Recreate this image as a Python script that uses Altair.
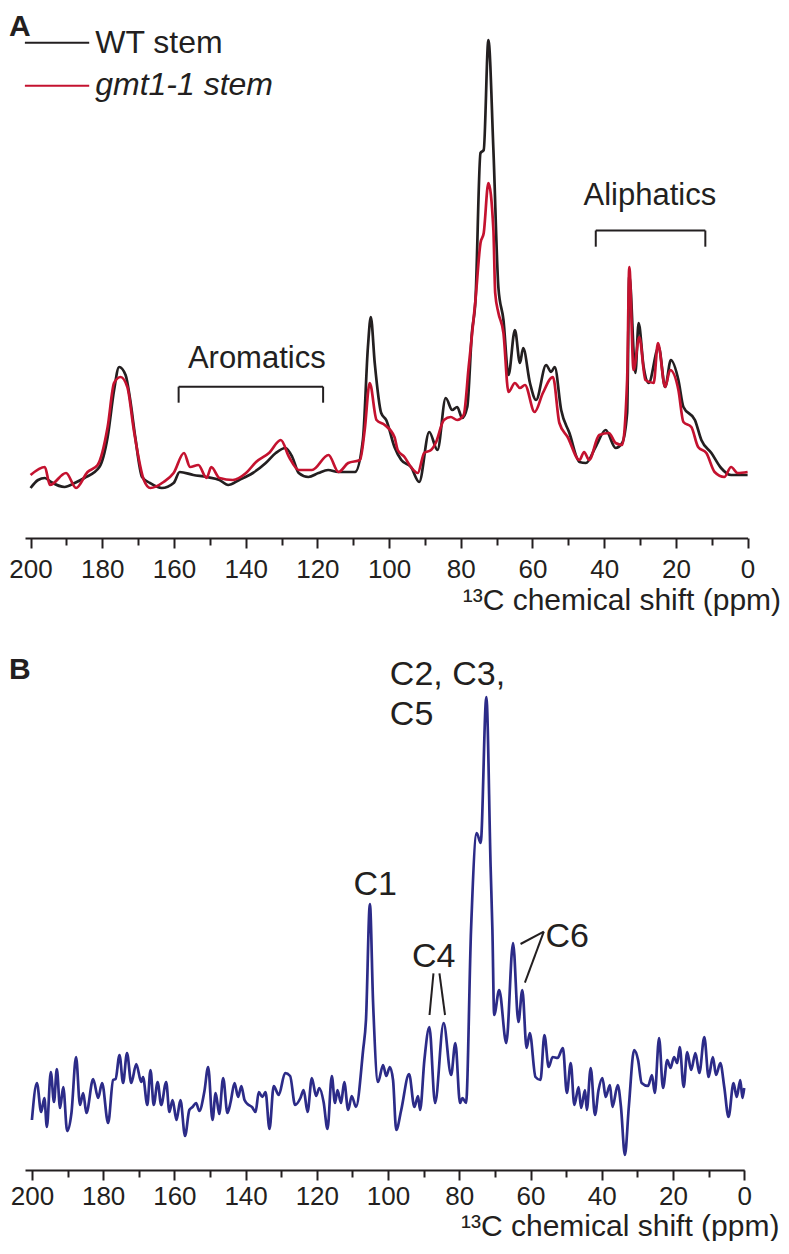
import altair as alt
import pandas as pd

# ---------------- data (ppm, arbitrary intensity) ----------------
wt_ppm = [200.0, 197.9, 196.0, 194.3, 190.5, 187.7, 185.0, 180.8, 178.5, 176.7, 175.3, 173.5, 172.2, 170.8,
          168.9, 166.7, 163.4, 160.1, 158.4, 154.6, 150.9, 147.3, 144.9, 141.8, 138.0, 134.4, 131.6, 128.9,
          127.0, 125.2, 122.5, 119.7, 117.0, 114.2, 109.5, 107.3, 105.9, 105.1, 104.0, 102.2, 100.8, 98.5,
          96.6, 93.9, 91.6, 88.8, 86.5, 84.2, 82.4, 81.0, 79.6, 78.2, 76.9, 75.9, 74.5, 73.6, 72.3, 70.9,
          69.5, 68.1, 66.7, 64.9, 63.5, 62.6, 60.7, 59.0, 56.2, 54.8, 53.8, 52.0, 49.7, 46.9, 45.1, 42.4,
          39.6, 36.8, 35.0, 33.6, 33.0, 31.3, 30.4, 29.0, 27.6, 24.8, 23.0, 21.4, 19.3, 17.9, 14.7, 12.9,
          10.1, 7.4, 4.6, 0.0]
wt_int = [2, 10, 12, 8, 3, 7, 12, 23, 53, 100, 123, 115, 90, 53,
          13, 7, 2, 7, 18, 15, 13, 10, 5, 10, 17, 27, 37, 42,
          33, 17, 13, 17, 20, 18, 18, 50, 143, 173, 127, 77, 70, 43,
          30, 23, 8, 58, 40, 92, 80, 83, 72, 83, 157, 190, 337, 340, 450, 340,
          202, 170, 115, 160, 127, 142, 107, 90, 125, 118, 123, 80, 57, 28, 27, 43,
          60, 42, 47, 77, 215, 117, 167, 123, 107, 143, 103, 130, 110, 83, 70, 50,
          37, 22, 15, 15]

gmt_ppm = [200.0, 196.0, 194.6, 190.1, 187.3, 184.1, 181.3, 178.5, 176.7, 174.9, 173.0, 171.2, 168.4, 166.6,
           162.9, 160.1, 157.2, 155.5, 153.2, 150.9, 149.6, 147.3, 143.6, 139.9, 137.1, 133.5, 130.2, 127.9,
           125.2, 121.5, 116.9, 114.1, 111.4, 108.1, 106.8, 105.4, 103.5, 101.2, 98.5, 97.6, 95.7, 93.9,
           92.0, 90.2, 88.3, 87.0, 84.7, 82.8, 81.0, 79.2, 77.8, 75.9, 74.5, 73.6, 72.3, 70.9, 70.4, 69.5,
           68.1, 66.7, 64.9, 63.5, 62.1, 59.4, 57.1, 54.3, 52.5, 50.2, 46.9, 45.6, 44.2, 41.4, 38.7, 36.8,
           35.0, 33.6, 33.0, 31.8, 30.2, 28.5, 26.2, 25.0, 23.0, 21.6, 19.3, 17.9, 15.7, 13.8, 11.5, 9.2,
           6.5, 4.6, 2.8, 0.0]
gmt_int = [15, 23, 5, 17, 2, 18, 25, 63, 107, 113, 103, 60, 10, 2,
           8, 17, 37, 23, 25, 12, 23, 12, 10, 17, 28, 37, 50, 33,
           20, 20, 35, 18, 27, 30, 60, 107, 70, 65, 53, 40, 33, 23,
           17, 37, 40, 47, 70, 73, 70, 75, 123, 190, 247, 257, 307, 260, 197, 177,
           157, 98, 107, 102, 105, 78, 97, 113, 67, 53, 30, 38, 30, 55, 57, 47,
           45, 110, 223, 120, 153, 110, 107, 147, 103, 120, 100, 68, 63, 43, 37, 18,
           13, 23, 17, 18]

b_ppm = [200.0, 198.6, 197.4, 196.5, 195.8, 194.7, 193.8, 193.0, 192.1, 191.2, 190.1, 188.9, 187.6, 186.5,
         185.6, 184.7, 182.8, 181.4, 180.3, 178.6, 177.2, 176.5, 175.4, 174.4, 173.3, 172.1, 170.7, 169.3,
         168.8, 167.6, 166.7, 165.8, 164.7, 163.7, 162.3, 161.4, 160.5, 159.4, 158.3, 157.0, 155.8, 154.9,
         153.9, 153.0, 151.6, 150.5, 149.3, 148.4, 147.4, 146.3, 145.1, 144.2, 143.1, 142.1, 141.2, 140.3,
         139.1, 138.2, 137.2, 136.3, 135.3, 134.4, 133.3, 132.1, 130.7, 128.9, 127.5, 126.1, 124.6, 123.7,
         122.6, 121.4, 120.2, 119.3, 118.1, 117.0, 115.8, 114.9, 114.2, 113.2, 112.3, 111.2, 110.2, 109.0,
         107.0, 106.2, 105.1, 104.2, 102.8, 101.4, 100.5, 99.5, 98.6, 97.7, 96.3, 94.1, 92.6, 91.6, 91.0,
         89.8, 88.4, 86.8, 84.4, 82.3, 81.1, 79.8, 79.1, 78.1, 76.7, 75.1, 74.0, 72.4, 71.2, 70.7, 70.2,
         68.8, 66.8, 64.9, 63.4, 62.3, 61.1, 60.2, 58.6, 57.2, 56.1, 54.9, 53.8, 52.4, 50.9, 49.8, 48.7,
         47.7, 46.5, 45.8, 44.7, 44.2, 43.1, 41.9, 40.9, 39.8, 38.9, 37.7, 37.0, 35.5, 34.6, 33.5, 32.4,
         30.9, 29.8, 28.8, 27.0, 25.9, 25.1, 23.9, 22.8, 21.6, 20.7, 19.7, 18.8, 18.1, 17.0, 16.0, 14.9,
         13.7, 12.6, 11.2, 10.0, 8.8, 7.9, 6.7, 5.6, 4.4, 3.0, 2.1, 1.1, 0.5, 0.0]
b_int = [-10, 27, -2, 12, -17, 38, 8, 41, 2, 23, -21, -3, 53, 5,
         17, -3, 31, 12, 27, -13, 30, 31, 55, 27, 57, 27, 46, 28,
         33, 5, 40, 5, 28, 5, 28, -2, 10, -10, 10, -26, 0, 3,
         7, -1, 18, 43, -10, 17, -4, 32, -3, 8, 27, 13, 24, 10,
         5, 3, -2, 18, 13, 18, -19, 24, 15, 37, 34, 5, 12, 20,
         -2, 32, 14, 22, 8, -19, 34, 7, 20, 7, 28, 0, 14, 3,
         60, 90, 206, 107, 28, 45, 34, 43, 30, -20, 0, 36, 3, 14, 0,
         50, 83, 7, 87, 35, 67, 7, 12, 7, 180, 277, 267, 413, 243, 180, 95,
         120, 67, 167, 88, 120, 62, 77, 33, 30, 75, 43, 53, 52, 62, 17, 47,
         5, 23, 2, 20, 0, 42, -5, 20, 32, 13, 25, 3, 25, 3, -45, 3,
         60, 50, 27, 24, 35, 17, 72, 22, 50, 42, 53, 47, 63, 23, 58, 40,
         57, 37, 73, 33, 53, 35, 47, 23, -7, 27, 13, 30, 12, 22]

tick_values = list(range(0, 201, 10))
series_names = ["WT stem", "gmt1-1 stem"]
axis_title = "¹³C chemical shift (ppm)"

# ---------------- styling ----------------
FONT = "Liberation Sans"
INK = "#231f20"
WT_COLOR = "#231f20"
GMT_COLOR = "#c4122f"
B_COLOR = "#2c2b88"

WA, HA = 722.6, 530
WB, HB = 719.2, 520


def make_axis(label_pad, title_x, title_y):
    return alt.Axis(
        values=tick_values,
        labelExpr="datum.value % 20 === 0 ? datum.label : ''",
        tickSize={"condition": {"test": "datum.value % 20 === 0", "value": 10}, "value": 7},
        tickWidth=2, tickColor=INK, domainColor=INK, domainWidth=2,
        labelFont=FONT, labelFontSize=26, labelColor=INK, labelBaseline="alphabetic",
        labelPadding=label_pad, labelFlush=False, labelOverlap=False,
        title=axis_title, titleFont=FONT, titleFontSize=30, titleFontWeight="normal",
        titleColor=INK, titleAnchor="end", titleAlign="right", titleBaseline="alphabetic",
        titleX=title_x, titleY=title_y, grid=False,
    )


def panel(lines, rules, texts, xdom, ydom, axis):
    xs = alt.Scale(domain=xdom, nice=False, zero=False)
    ys = alt.Scale(domain=ydom, nice=False, zero=False)
    X = alt.X("ppm:Q", scale=xs, axis=axis)
    Y = alt.Y("val:Q", scale=ys, axis=None)
    layers = []
    for df, color in lines:
        layers.append(alt.Chart(df).mark_line(color=color, strokeWidth=2.7, interpolate="monotone")
                      .encode(x=X, y=Y))
    if rules is not None:
        layers.append(alt.Chart(rules).mark_rule(strokeWidth=2, strokeCap="butt")
                      .encode(x=X, x2="ppm2:Q", y=Y, y2="val2:Q",
                              color=alt.Color("col:N", scale=None),
                              strokeWidth=alt.StrokeWidth("w:Q", scale=None)))
    for df, kw in texts:
        layers.append(alt.Chart(df).mark_text(font=FONT, color=INK, **kw)
                      .encode(x=X, y=Y, text="label:N"))
    return alt.layer(*layers)


# ---------------- panel A ----------------
dfA_wt = pd.DataFrame({"ppm": wt_ppm, "val": wt_int})
dfA_gmt = pd.DataFrame({"ppm": gmt_ppm, "val": gmt_int})

rulesA = pd.DataFrame({
    "ppm":  [201.58, 201.58, 158.7, 158.7, 118.4, 42.35, 42.35, 11.79],
    "ppm2": [183.64, 183.64, 118.4, 158.7, 118.4, 11.79, 42.35, 11.79],
    "val":  [447.3, 404.3, 103.3, 103.3, 103.3, 259.5, 259.5, 259.5],
    "val2": [447.3, 404.3, 103.3, 87.3, 87.3, 259.5, 243.3, 243.3],
    "col":  [WT_COLOR, GMT_COLOR, INK, INK, INK, INK, INK, INK],
    "w":    [2.6, 2.6, 2, 2, 2, 2, 2, 2],
})
textA_legend = pd.DataFrame({"ppm": [181.97], "val": [436.7], "label": [series_names[0]]})
textA_legend_it = pd.DataFrame({"ppm": [181.97], "val": [395.0], "label": [series_names[1]]})
textA_groups = pd.DataFrame({"ppm": [136.9, 27.25], "val": [121.7, 285.0], "label": ["Aromatics", "Aliphatics"]})
textA_letter = pd.DataFrame({"ppm": [206.04], "val": [454.0], "label": ["A"]})

chartA = panel(
    [(dfA_wt, WT_COLOR), (dfA_gmt, GMT_COLOR)],
    rulesA,
    [
        (textA_legend, dict(fontSize=32, align="left", baseline="alphabetic")),
        (textA_legend_it, dict(fontSize=32, align="left", baseline="alphabetic", fontStyle="italic")),
        (textA_groups, dict(fontSize=31, align="center", baseline="alphabetic")),
        (textA_letter, dict(fontSize=30, align="left", baseline="alphabetic", fontWeight="bold")),
    ],
    [201.55, 0], [-48, 482], make_axis(29.7, WA + 33, 71),
).properties(width=WA, height=HA)

# ---------------- panel B ----------------
dfB = pd.DataFrame({"ppm": b_ppm, "val": b_int})
rulesB = pd.DataFrame({
    "ppm":  [87.25, 85.57, 56.27, 56.27],
    "ppm2": [88.36, 84.0, 62.8, 61.57],
    "val":  [136.7, 136.7, 178.3, 178.3],
    "val2": [95.0, 95.0, 166.0, 127.3],
    "col":  [INK, INK, INK, INK],
    "w":    [2, 2, 2, 2],
})
textB_left = pd.DataFrame({"ppm": [99.5, 99.5, 55.8], "val": [425.0, 385.0, 163.3],
                           "label": ["C2, C3,", "C5", "C6"]})
textB_center = pd.DataFrame({"ppm": [103.6, 87.2], "val": [215.0, 143.3], "label": ["C1", "C4"]})
textB_letter = pd.DataFrame({"ppm": [206.46], "val": [431.0], "label": ["B"]})

chartB = panel(
    [(dfB, B_COLOR)],
    rulesB,
    [
        (textB_left, dict(fontSize=34, align="left", baseline="alphabetic")),
        (textB_center, dict(fontSize=34, align="center", baseline="alphabetic")),
        (textB_letter, dict(fontSize=30, align="left", baseline="alphabetic", fontWeight="bold")),
    ],
    [201.94, 0], [-60, 460], make_axis(24.0, WB + 34.7, 65),
).properties(width=WB, height=HB)

chart = alt.vconcat(chartA, chartB, spacing=35).properties(
    padding={"left": 0, "top": 0, "right": 0, "bottom": 0}
).configure_view(stroke=None)

chart.save("out.html", embed_options={"renderer": "svg", "actions": False})
